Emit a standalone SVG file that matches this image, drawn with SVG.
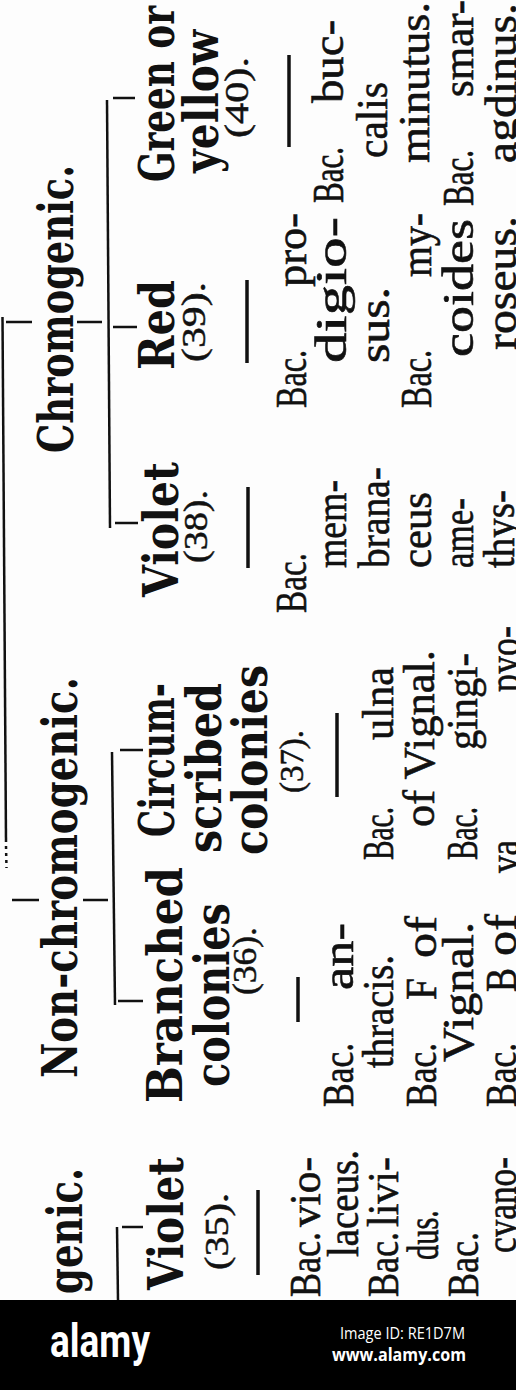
<svg xmlns="http://www.w3.org/2000/svg" width="516" height="1390" viewBox="0 0 516 1390">
<style>
text{fill:#111}
.b{font-family:"DejaVu Serif",serif;font-weight:bold;font-size:48px}
.r{font-family:"Liberation Serif",serif;font-size:45px;stroke:#111;stroke-width:0.6}
.n{font-family:"Liberation Serif",serif;font-size:33px;stroke:#111;stroke-width:0.5}
.ln{stroke:#111;stroke-width:2.5;fill:none}
.dash{stroke:#111;stroke-width:3.5;fill:none}
.wm1{font-family:Roboto,"Liberation Sans",sans-serif;font-weight:bold;font-size:46px;fill:#fff}
.wm2{font-family:"Open Sans","Liberation Sans",sans-serif;font-size:16px;fill:#fff}
.wm3{font-family:"Open Sans","Liberation Sans",sans-serif;font-weight:bold;font-size:18px;fill:#fff}
</style>
<rect width="516" height="1390" fill="#fdfdfd"/>
<g id="connectors">
<path class="ln" d="M2.5,317 L6,842"/>
<path class="ln" d="M6,846 L6.5,868" stroke-dasharray="3,4"/>
<path class="ln" d="M6,322 H32 M77,322 H102"/>
<path class="ln" d="M107,100 L110,528"/>
<path class="ln" d="M113,98 H135 M113,327 H137 M115,523 H138"/>
<path class="ln" d="M12,900 H39 M83,900 H108"/>
<path class="ln" d="M112,752 L115,1005"/>
<path class="ln" d="M120,750 H143 M118,1001 H143"/>
<path class="ln" d="M117,1227 L118,1300"/>
<path class="ln" d="M122,1227 H143"/>
</g>
<g id="chromogenic">
<text class="b" transform="translate(73,453) rotate(-90)" textLength="288" lengthAdjust="spacingAndGlyphs">Chromogenic.</text>
</g>
<g id="non-chromogenic">
<text class="b" transform="translate(77,1078) rotate(-90)" textLength="401" lengthAdjust="spacingAndGlyphs">Non-chromogenic.</text>
</g>
<g id="chromogenic-left">
<text class="b" transform="translate(82,1294) rotate(-90)" textLength="126" lengthAdjust="spacingAndGlyphs">genic.</text>
</g>
<g id="green-40">
<text class="b" transform="translate(174,182) rotate(-90)" textLength="176" lengthAdjust="spacingAndGlyphs">Green or</text>
<text class="b" transform="translate(218,173) rotate(-90)" textLength="143" lengthAdjust="spacingAndGlyphs">yellow</text>
<text class="n" transform="translate(248,138) rotate(-90)" textLength="81" lengthAdjust="spacingAndGlyphs">(40).</text>
<path class="dash" d="M289,55 V147"/>
<text class="r" transform="translate(343,203) rotate(-90)" textLength="56" lengthAdjust="spacingAndGlyphs">Bac.</text>
<text class="r" transform="translate(343,103) rotate(-90)" textLength="83" lengthAdjust="spacingAndGlyphs">buc-</text>
<text class="r" transform="translate(387,158) rotate(-90)" textLength="76" lengthAdjust="spacingAndGlyphs">calis</text>
<text class="r" transform="translate(429,163) rotate(-90)" textLength="161" lengthAdjust="spacingAndGlyphs">minutus.</text>
<text class="r" transform="translate(473,206) rotate(-90)" textLength="56" lengthAdjust="spacingAndGlyphs">Bac.</text>
<text class="r" transform="translate(473,97) rotate(-90)" textLength="97" lengthAdjust="spacingAndGlyphs">smar-</text>
<text class="r" transform="translate(516,163) rotate(-90)" textLength="160" lengthAdjust="spacingAndGlyphs">agdinus.</text>
</g>
<g id="red-39">
<text class="b" transform="translate(174,370) rotate(-90)" textLength="90" lengthAdjust="spacingAndGlyphs">Red</text>
<text class="n" transform="translate(205,362) rotate(-90)" textLength="80" lengthAdjust="spacingAndGlyphs">(39).</text>
<path class="dash" d="M247,280 V363"/>
<text class="r" transform="translate(306,408) rotate(-90)" textLength="58" lengthAdjust="spacingAndGlyphs">Bac.</text>
<text class="r" transform="translate(306,287) rotate(-90)" textLength="74" lengthAdjust="spacingAndGlyphs">pro-</text>
<text class="r" transform="translate(346,363) rotate(-90)" textLength="146" lengthAdjust="spacingAndGlyphs">digio-</text>
<text class="r" transform="translate(389,363) rotate(-90)" textLength="76" lengthAdjust="spacingAndGlyphs">sus.</text>
<text class="r" transform="translate(431,408) rotate(-90)" textLength="58" lengthAdjust="spacingAndGlyphs">Bac.</text>
<text class="r" transform="translate(431,277) rotate(-90)" textLength="64" lengthAdjust="spacingAndGlyphs">my-</text>
<text class="r" transform="translate(473,357) rotate(-90)" textLength="138" lengthAdjust="spacingAndGlyphs">coides</text>
<text class="r" transform="translate(516,350) rotate(-90)" textLength="134" lengthAdjust="spacingAndGlyphs">roseus.</text>
</g>
<g id="violet-38">
<text class="b" transform="translate(178,597) rotate(-90)" textLength="135" lengthAdjust="spacingAndGlyphs">Violet</text>
<text class="n" transform="translate(207,563) rotate(-90)" textLength="73" lengthAdjust="spacingAndGlyphs">(38).</text>
<path class="dash" d="M248,487 V568"/>
<text class="r" transform="translate(306,613) rotate(-90)" textLength="60" lengthAdjust="spacingAndGlyphs">Bac.</text>
<text class="r" transform="translate(346,568) rotate(-90)" textLength="88" lengthAdjust="spacingAndGlyphs">mem-</text>
<text class="r" transform="translate(389,568) rotate(-90)" textLength="101" lengthAdjust="spacingAndGlyphs">brana-</text>
<text class="r" transform="translate(431,568) rotate(-90)" textLength="76" lengthAdjust="spacingAndGlyphs">ceus</text>
<text class="r" transform="translate(473,568) rotate(-90)" textLength="70" lengthAdjust="spacingAndGlyphs">ame-</text>
<text class="r" transform="translate(514,568) rotate(-90)" textLength="78" lengthAdjust="spacingAndGlyphs">thys-</text>
</g>
<g id="circumscribed-37">
<text class="b" transform="translate(174,837) rotate(-90)" textLength="154" lengthAdjust="spacingAndGlyphs">Circum-</text>
<text class="b" transform="translate(221,853) rotate(-90)" textLength="170" lengthAdjust="spacingAndGlyphs">scribed</text>
<text class="b" transform="translate(267,855) rotate(-90)" textLength="190" lengthAdjust="spacingAndGlyphs">colonies</text>
<text class="n" transform="translate(303,793) rotate(-90)" textLength="63" lengthAdjust="spacingAndGlyphs">(37).</text>
<path class="dash" d="M337,713 V797"/>
<text class="r" transform="translate(393,860) rotate(-90)" textLength="53" lengthAdjust="spacingAndGlyphs">Bac.</text>
<text class="r" transform="translate(393,740) rotate(-90)" textLength="73" lengthAdjust="spacingAndGlyphs">ulna</text>
<text class="r" transform="translate(434,827) rotate(-90)" textLength="177" lengthAdjust="spacingAndGlyphs">of Vignal.</text>
<text class="r" transform="translate(477,860) rotate(-90)" textLength="53" lengthAdjust="spacingAndGlyphs">Bac.</text>
<text class="r" transform="translate(477,750) rotate(-90)" textLength="97" lengthAdjust="spacingAndGlyphs">gingi-</text>
<text class="r" transform="translate(519,873) rotate(-90)" textLength="33" lengthAdjust="spacingAndGlyphs">va</text>
<text class="r" transform="translate(519,692) rotate(-90)" textLength="66" lengthAdjust="spacingAndGlyphs">pyo-</text>
</g>
<g id="branched-36">
<text class="b" transform="translate(182,1103) rotate(-90)" textLength="236" lengthAdjust="spacingAndGlyphs">Branched</text>
<text class="b" transform="translate(229,1087) rotate(-90)" textLength="184" lengthAdjust="spacingAndGlyphs">colonies</text>
<text class="n" transform="translate(256,995) rotate(-90)" textLength="68" lengthAdjust="spacingAndGlyphs">(36).</text>
<path class="dash" d="M298,977 V1022"/>
<text class="r" transform="translate(353,1107) rotate(-90)" textLength="64" lengthAdjust="spacingAndGlyphs">Bac.</text>
<text class="r" transform="translate(353,990) rotate(-90)" textLength="67" lengthAdjust="spacingAndGlyphs">an-</text>
<text class="r" transform="translate(393,1068) rotate(-90)" textLength="113" lengthAdjust="spacingAndGlyphs">thracis.</text>
<text class="r" transform="translate(436,1107) rotate(-90)" textLength="64" lengthAdjust="spacingAndGlyphs">Bac.</text>
<text class="r" transform="translate(436,1000) rotate(-90)" textLength="22" lengthAdjust="spacingAndGlyphs">F</text>
<text class="r" transform="translate(436,958) rotate(-90)" textLength="42" lengthAdjust="spacingAndGlyphs">of</text>
<text class="r" transform="translate(473,1062) rotate(-90)" textLength="140" lengthAdjust="spacingAndGlyphs">Vignal.</text>
<text class="r" transform="translate(516,1107) rotate(-90)" textLength="64" lengthAdjust="spacingAndGlyphs">Bac.</text>
<text class="r" transform="translate(516,992) rotate(-90)" textLength="24" lengthAdjust="spacingAndGlyphs">B</text>
<text class="r" transform="translate(516,956) rotate(-90)" textLength="42" lengthAdjust="spacingAndGlyphs">of</text>
</g>
<g id="violet-35">
<text class="b" transform="translate(183,1290) rotate(-90)" textLength="133" lengthAdjust="spacingAndGlyphs">Violet</text>
<text class="n" transform="translate(228,1270) rotate(-90)" textLength="77" lengthAdjust="spacingAndGlyphs">(35).</text>
<path class="dash" d="M258,1190 V1275"/>
<text class="r" transform="translate(320,1297) rotate(-90)" textLength="65" lengthAdjust="spacingAndGlyphs">Bac.</text>
<text class="r" transform="translate(320,1227) rotate(-90)" textLength="70" lengthAdjust="spacingAndGlyphs">vio-</text>
<text class="r" transform="translate(358,1257) rotate(-90)" textLength="107" lengthAdjust="spacingAndGlyphs">laceus.</text>
<text class="r" transform="translate(398,1297) rotate(-90)" textLength="65" lengthAdjust="spacingAndGlyphs">Bac.</text>
<text class="r" transform="translate(398,1227) rotate(-90)" textLength="70" lengthAdjust="spacingAndGlyphs">livi-</text>
<text class="r" transform="translate(438,1260) rotate(-90)" textLength="50" lengthAdjust="spacingAndGlyphs">dus.</text>
<text class="r" transform="translate(478,1297) rotate(-90)" textLength="65" lengthAdjust="spacingAndGlyphs">Bac.</text>
<text class="r" transform="translate(516,1253) rotate(-90)" textLength="96" lengthAdjust="spacingAndGlyphs">cyano-</text>
</g>
<g id="watermark">
<rect x="0" y="1300" width="516" height="90" fill="#000"/>
<text class="wm1" x="50" y="1357" textLength="100" lengthAdjust="spacingAndGlyphs">alamy</text>
<text class="wm2" x="340" y="1339" textLength="125" lengthAdjust="spacingAndGlyphs">Image ID: RE1D7M</text>
<text class="wm3" x="332" y="1361" textLength="134" lengthAdjust="spacingAndGlyphs">www.alamy.com</text>
</g>
</svg>
